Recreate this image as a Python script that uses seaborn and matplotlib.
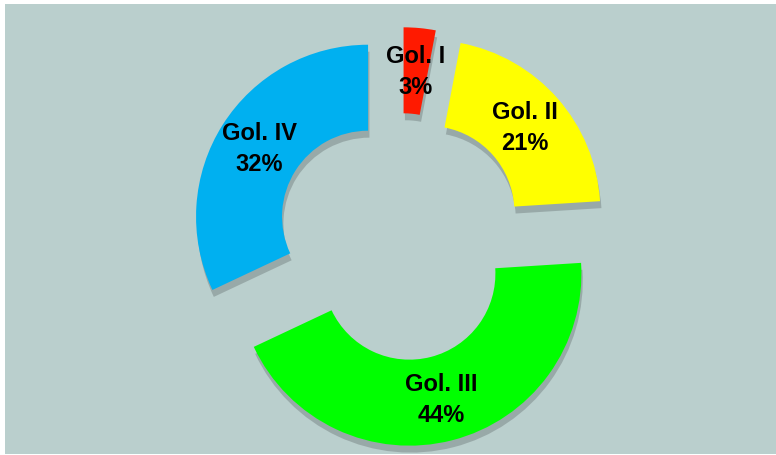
import matplotlib
matplotlib.use("Agg")
import matplotlib.pyplot as plt
import matplotlib.patheffects as pe
from matplotlib.patches import Rectangle
import seaborn as sns

sns.set_style("white")
plt.rcParams['font.family'] = ['Liberation Sans Narrow', 'Liberation Sans', 'DejaVu Sans']

# data
groups = ["Gol. I", "Gol. II", "Gol. III", "Gol. IV"]
shares = [3, 21, 44, 32]
colors = ["#FF1A00", "#FFFF00", "#00FF00", "#00B0F0"]

W, H = 776, 456
fig = plt.figure(figsize=(W / 100, H / 100), dpi=100)
fig.patch.set_facecolor("white")

# grey-teal panel
fig.patches.append(Rectangle((5 / W, 1 / H), 1 - 5 / W, (H - 6) / H,
                             transform=fig.transFigure, facecolor="#BACFCD",
                             edgecolor="none", zorder=0))

ax = fig.add_axes([0, 0, 1, 1])
ax.set_zorder(2)
ax.patch.set_alpha(0)

labels = [f"{g}\n{v}%" for g, v in zip(groups, shares)]
wedges, texts = ax.pie(shares, colors=colors, startangle=90, counterclock=False,
                       explode=[0.22] * len(shares), radius=1,
                       wedgeprops=dict(width=0.5, edgecolor="none"),
                       labels=labels, labeldistance=0.75,
                       textprops=dict(fontsize=17, fontweight="bold", color="black",
                                      ha="center", va="center", linespacing=1.45))
for w in wedges:
    w.set_path_effects([pe.SimplePatchShadow(offset=(1, -5), shadow_rgbFace="#5a6464", alpha=0.35),
                        pe.Normal()])
for t in texts:
    t.set_horizontalalignment("center")

scale = 172.0
ox, oy = 400, 238
ax.set_xlim(-ox / scale, (W - ox) / scale)
ax.set_ylim(-(H - oy) / scale, oy / scale)
ax.set_aspect("auto")
ax.axis("off")

plt.savefig("out.png", dpi=100, facecolor=fig.get_facecolor())
plt.close()
